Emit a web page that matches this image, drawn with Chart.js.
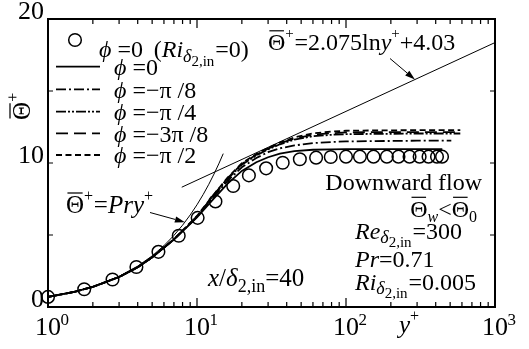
<!DOCTYPE html>
<html>
<head>
<meta charset="utf-8">
<script src="https://cdn.jsdelivr.net/npm/chart.js@4/dist/chart.umd.min.js"></script>
<style>
  html, body { margin: 0; padding: 0; background: #fff; }
  canvas { display: block; }
</style>
</head>
<body>
<canvas id="c" width="529" height="349"></canvas>
<script>
// Measured points, phi = 0 (Ri = 0)
const yPlusExp = [1, 1.75, 2.71, 3.92, 5.51, 7.54, 10.1, 13.3, 17.5, 22.3, 29.1, 37.6, 49, 63, 79, 100, 124, 153, 188, 225, 267, 312, 358, 408, 441];
const thetaExp = [0.70, 1.23, 1.91, 2.78, 3.83, 4.95, 6.19, 7.33, 8.40, 9.14, 9.63, 10.02, 10.26, 10.37, 10.42, 10.44, 10.44, 10.44, 10.44, 10.44, 10.44, 10.44, 10.44, 10.44, 10.44];

// Simulated profiles, Ri = 0.005 (last entry is the end of each curve)
const yPlusSim = [1, 1.5, 2, 3, 4, 5, 7, 10, 13, 16, 20, 25, 30, 36, 45, 60, 80, 100, 150, 200, 300];
const yPlusEnd = [443, 509, 585, 585, 585];
const thetaPhi0   = [0.70, 1.05, 1.40, 2.08, 2.76, 3.45, 4.68, 6.22, 7.55, 8.55, 9.45, 10.05, 10.40, 10.65, 10.82, 10.92, 10.95, 10.96, 10.97, 10.97, 10.97, 10.97];
const thetaPhiPi8 = [0.70, 1.05, 1.40, 2.08, 2.76, 3.45, 4.69, 6.26, 7.68, 8.75, 9.70, 10.35, 10.75, 11.02, 11.22, 11.38, 11.46, 11.50, 11.52, 11.53, 11.55, 11.55];
const thetaPhiPi4 = [0.70, 1.05, 1.40, 2.08, 2.76, 3.45, 4.70, 6.28, 7.76, 8.88, 9.88, 10.52, 10.95, 11.30, 11.62, 11.86, 11.96, 12.00, 12.02, 12.03, 12.05, 12.05];
const thetaPhi3Pi8 = [0.70, 1.05, 1.40, 2.08, 2.76, 3.45, 4.70, 6.30, 7.80, 8.93, 9.93, 10.57, 11.00, 11.36, 11.70, 11.96, 12.07, 12.12, 12.14, 12.15, 12.15, 12.15];
const thetaPhiPi2 = [0.70, 1.05, 1.40, 2.08, 2.76, 3.45, 4.71, 6.32, 7.83, 8.97, 9.98, 10.62, 11.05, 11.42, 11.78, 12.06, 12.18, 12.24, 12.26, 12.27, 12.28, 12.28];

// Reference laws: Theta+ = Pr*y+  and  Theta+ = 2.075 ln y+ + 4.03
const Pr = 0.71;
const logA = 2.075, logB = 4.03;
const yPlusLinear = [1, 1.5, 2, 3, 4, 5, 6, 7, 8, 9, 10, 11, 12, 13, 14, 15];
const yPlusLog = [7.9, 1000];

// Axis ticks
const xMajor = [1, 10, 100, 1000];
const xExponent = ['0', '1', '2', '3'];
const xMinorMult = [2, 3, 4, 5, 6, 7, 8, 9];
const yLabelled = [0, 10, 20];
const yTickVals = [5, 10, 15];

const SERIF = "'Liberation Serif', 'Times New Roman', Times, 'DejaVu Serif', serif";
const fnt = (sz, it) => (it ? 'italic ' : 'normal ') + Math.round(sz) + 'px ' + SERIF;

function pts(xs, ys) { return xs.map((x, i) => ({ x: x, y: ys[i] })); }

// Draws a run of text pieces (italics, sub/superscripts, overbars)
function rich(ctx, x, y, base, segs, align) {
  const parts = segs.map(s => {
    const sz = base * (s.sc || 1);
    ctx.font = fnt(sz, s.i);
    return { s: s, sz: sz, w: ctx.measureText(s.t).width };
  });
  const total = parts.reduce((a, p) => a + p.w + (p.s.gap || 0) * base, 0);
  let cx = align === 'right' ? x - total : (align === 'center' ? x - total / 2 : x);
  parts.forEach(p => {
    ctx.font = fnt(p.sz, p.s.i);
    const by = y + (p.s.dy || 0) * base;
    ctx.fillText(p.s.t, cx, by);
    if (p.s.bar) {
      ctx.beginPath();
      ctx.lineWidth = Math.max(1, base * 0.05);
      ctx.moveTo(cx + p.w * 0.08, by - p.sz * 0.8);
      ctx.lineTo(cx + p.w * 0.92, by - p.sz * 0.8);
      ctx.stroke();
    }
    cx += p.w + (p.s.gap || 0) * base;
  });
  return total;
}

const THETA_BAR_PLUS = [{ t: 'Θ', bar: true }, { t: '+', sc: 0.62, dy: -0.5, gap: 0.03 }];
const SUB_D2IN = [{ t: 'δ', i: true, sc: 0.76, dy: 0.2 }, { t: '2,in', sc: 0.62, dy: 0.36, gap: 0.04 }];
const PHI = { t: 'ϕ', i: true, gap: 0.25 };

function arrow(ctx, x0, y0, x1, y1) {
  const a = Math.atan2(y1 - y0, x1 - x0), L = 10, W = 3.2;
  const bx = x1 - L * Math.cos(a), by = y1 - L * Math.sin(a);
  ctx.beginPath(); ctx.lineWidth = 1; ctx.moveTo(x0, y0); ctx.lineTo(bx, by); ctx.stroke();
  ctx.beginPath();
  ctx.moveTo(x1, y1);
  ctx.lineTo(bx + W * Math.sin(a), by - W * Math.cos(a));
  ctx.lineTo(bx - W * Math.sin(a), by + W * Math.cos(a));
  ctx.closePath(); ctx.fill();
}

const DASHES = {
  phi0: [],
  pi8: [10, 3, 2, 3],
  pi4: [10, 2, 2, 2, 2, 2],
  p3pi8: [12, 6],
  pi2: [6, 3.5]
};

const decor = {
  id: 'decor',
  beforeDraw(chart) {
    const c = chart.ctx;
    c.save(); c.fillStyle = '#fff'; c.fillRect(0, 0, chart.width, chart.height); c.restore();
  },
  afterDraw(chart) {
    const c = chart.ctx, a = chart.chartArea;
    const xs = chart.scales.x, ys = chart.scales.y;
    c.save();
    c.strokeStyle = '#000'; c.fillStyle = '#000';

    // frame
    c.lineWidth = 2;
    c.strokeRect(a.left, a.top, a.right - a.left, a.bottom - a.top);

    // inward ticks
    c.lineWidth = 1.2;
    c.beginPath();
    xMajor.forEach((v, k) => {
      const px = xs.getPixelForValue(v);
      c.moveTo(px, a.bottom); c.lineTo(px, a.bottom - 9);
      c.moveTo(px, a.top); c.lineTo(px, a.top + 9);
      if (k < xMajor.length - 1) xMinorMult.forEach(m => {
        const q = xs.getPixelForValue(v * m);
        c.moveTo(q, a.bottom); c.lineTo(q, a.bottom - 5);
        c.moveTo(q, a.top); c.lineTo(q, a.top + 5);
      });
    });
    yTickVals.forEach(v => {
      const py = ys.getPixelForValue(v);
      c.moveTo(a.left, py); c.lineTo(a.left + 5, py);
      c.moveTo(a.right, py); c.lineTo(a.right - 5, py);
    });
    c.stroke();

    // tick labels
    c.textBaseline = 'alphabetic';
    xMajor.forEach((v, k) => {
      const px = xs.getPixelForValue(v);
      c.font = fnt(26, false);
      c.textAlign = 'center';
      c.fillText('10', px, 335);
      c.textAlign = 'left';
      c.font = fnt(17, false);
      c.fillText(xExponent[k], px + 12.5, 325);
    });
    c.textAlign = 'right';
    c.font = fnt(26, false);
    yLabelled.forEach(v => c.fillText(String(v), 44, ys.getPixelForValue(v)));
    c.textAlign = 'left';

    // axis titles
    rich(c, 399, 333, 25, [{ t: 'y', i: true }, { t: '+', sc: 0.62, dy: -0.5 }]);
    c.save();
    c.translate(30, 106);
    c.rotate(-Math.PI / 2);
    rich(c, 0, 0, 25, THETA_BAR_PLUS, 'center');
    c.restore();

    // legend
    const lx0 = 56, lx1 = 100;
    c.lineWidth = 1.5;
    c.beginPath(); c.arc(75, 40, 6.3, 0, Math.PI * 2); c.stroke();
    rich(c, 99, 57, 24, [PHI, { t: '=0', gap: 0.45 }, { t: '(' }, { t: 'Ri', i: true }].concat(SUB_D2IN, [{ t: '=0)' }]));
    const rows = [
      { y: 66.7, d: DASHES.phi0, lab: [PHI, { t: '=0' }] },
      { y: 89.3, d: DASHES.pi8, lab: [PHI, { t: '=−π /8' }] },
      { y: 111.7, d: DASHES.pi4, lab: [PHI, { t: '=−π /4' }] },
      { y: 133.3, d: DASHES.p3pi8, lab: [PHI, { t: '=−3π /8' }] },
      { y: 155, d: DASHES.pi2, lab: [PHI, { t: '=−π /2' }] }
    ];
    rows.forEach(r => {
      c.lineWidth = 1.8;
      c.setLineDash(r.d);
      c.beginPath(); c.moveTo(lx0, r.y); c.lineTo(lx1, r.y); c.stroke();
      c.setLineDash([]);
      rich(c, 114, r.y + 8.3, 24, r.lab);
    });

    // law labels with arrows
    rich(c, 268, 50, 24, THETA_BAR_PLUS.concat([{ t: '=2.075ln' }, { t: 'y', i: true }, { t: '+', sc: 0.62, dy: -0.5 }, { t: '+4.03' }]));
    const tipLog = 290;
    arrow(c, 390, 58.5, xs.getPixelForValue(tipLog), ys.getPixelForValue(logA * Math.log(tipLog) + logB));
    rich(c, 66, 213, 25, THETA_BAR_PLUS.concat([{ t: '=' }, { t: 'Pry', i: true }, { t: '+', sc: 0.62, dy: -0.5 }]));
    const tipLin = 8.3;
    arrow(c, 150, 212.5, xs.getPixelForValue(tipLin), ys.getPixelForValue(Pr * tipLin));

    // case description
    rich(c, 208, 286, 25, [{ t: 'x', i: true }, { t: '/' }, { t: 'δ', i: true }, { t: '2,in', sc: 0.7, dy: 0.22 }, { t: '=40' }]);
    rich(c, 482, 190, 24, [{ t: 'Downward flow' }], 'right');
    rich(c, 477, 216.5, 24, [{ t: 'Θ', bar: true }, { t: 'w', i: true, sc: 0.66, dy: 0.24 }, { t: '<' }, { t: 'Θ', bar: true }, { t: '0', sc: 0.66, dy: 0.24 }], 'right');
    rich(c, 355, 238.5, 24, [{ t: 'Re', i: true }].concat(SUB_D2IN, [{ t: '=300' }]));
    rich(c, 355, 266.5, 24, [{ t: 'Pr', i: true }, { t: '=0.71' }]);
    rich(c, 355, 289.5, 24, [{ t: 'Ri', i: true }].concat(SUB_D2IN, [{ t: '=0.005' }]));

    c.restore();
  }
};

function simSet(ys, k, dash) {
  return {
    data: pts(yPlusSim.concat([yPlusEnd[k]]), ys),
    borderColor: '#000', borderWidth: 1.8, borderDash: dash,
    pointRadius: 0, fill: false
  };
}

new Chart(document.getElementById('c'), {
  type: 'line',
  data: {
    datasets: [
      {
        data: pts(yPlusExp, thetaExp), showLine: false,
        pointRadius: 6.3, pointStyle: 'circle', pointBorderWidth: 1.5,
        pointBorderColor: '#000', pointBackgroundColor: 'rgba(0,0,0,0)', clip: false
      },
      simSet(thetaPhi0, 0, DASHES.phi0),
      simSet(thetaPhiPi8, 1, DASHES.pi8),
      simSet(thetaPhiPi4, 2, DASHES.pi4),
      simSet(thetaPhi3Pi8, 3, DASHES.p3pi8),
      simSet(thetaPhiPi2, 4, DASHES.pi2),
      {
        data: pts(yPlusLinear, yPlusLinear.map(v => Pr * v)),
        borderColor: '#000', borderWidth: 1, pointRadius: 0, fill: false
      },
      {
        data: pts(yPlusLog, yPlusLog.map(v => logA * Math.log(v) + logB)),
        borderColor: '#000', borderWidth: 1, pointRadius: 0, fill: false
      }
    ]
  },
  options: {
    responsive: false,
    animation: false,
    devicePixelRatio: 1,
    layout: { padding: { left: 48, right: 34, top: 19, bottom: 42 } },
    scales: {
      x: { type: 'logarithmic', min: 1, max: 1000, display: false },
      y: { type: 'linear', min: 0, max: 20, display: false }
    },
    plugins: { legend: { display: false }, tooltip: { enabled: false } },
    elements: { line: { tension: 0 } }
  },
  plugins: [decor]
});
</script>
</body>
</html>
